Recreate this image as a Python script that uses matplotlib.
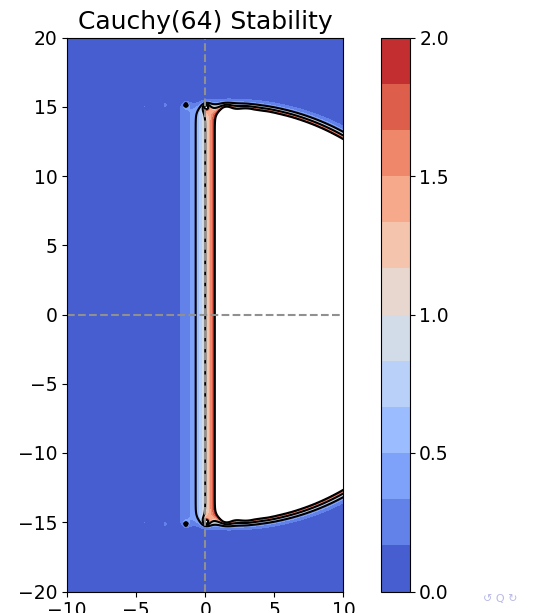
import numpy as np
import matplotlib
matplotlib.use("Agg")
import matplotlib.pyplot as plt

# quadrature contour for the Cauchy integral approximation of exp(z)
n_nodes = 64
center = -2.16
radius = 15.17

# shaded levels, black contour levels, colorbar ticks
fill_levels = [0.0, 1/6, 2/6, 0.5, 4/6, 5/6, 1.0, 7/6, 8/6, 1.5, 10/6, 11/6, 2.0]
line_levels = [0.5, 1.0, 2.0]
cbar_ticks = [0.0, 0.5, 1.0, 1.5, 2.0]
xticks = [-10, -5, 0, 5, 10]
yticks = [-20, -15, -10, -5, 0, 5, 10, 15, 20]

#stability function R(z) = (1/N) sum_k exp(zeta_k) (zeta_k - c) / (zeta_k - z)
theta = 2*np.pi*(np.arange(n_nodes) + 0.5)/n_nodes
zeta = center + radius*np.exp(1j*theta)
w = np.exp(zeta)*(zeta - center)/n_nodes

x = np.linspace(-10, 10, 201)
y = np.linspace(-20, 20, 401)
X, Y = np.meshgrid(x, y)
Z = X + 1j*Y
R = np.zeros_like(Z)
for k in range(n_nodes):
    R += w[k]/(zeta[k] - Z)
absR = np.abs(R)

fig = plt.figure(figsize=(5.49, 6.13), dpi=100)
ax = fig.add_axes([67/549, 21.5/613, 276.5/549, 554/613])
cax = fig.add_axes([380.5/549, 21.5/613, 29/549, 554/613])

cf = ax.contourf(X, Y, absR, levels=fill_levels, cmap='coolwarm')
ax.contour(X, Y, absR, levels=line_levels, colors='k', linewidths=1.5)
ax.axhline(0, color='#909090', ls='--', lw=1.5)
ax.axvline(0, color='#909090', ls='--', lw=1.5)

ax.set_xlim(-10, 10)
ax.set_ylim(-20, 20)
ax.set_xticks(xticks)
ax.set_yticks(yticks)
ax.tick_params(labelsize=13.5)
ax.set_title("Cauchy(64) Stability", fontsize=18)

cb = fig.colorbar(cf, cax=cax, ticks=cbar_ticks)
cb.ax.set_yticklabels(["0.0", "0.5", "1.0", "1.5", "2.0"])
cb.ax.tick_params(labelsize=13.5)

fig.text(0.88, 0.018, "↺ Q ↻", color='#b8b8e8', fontsize=8)

plt.savefig("out.png", dpi=100)
